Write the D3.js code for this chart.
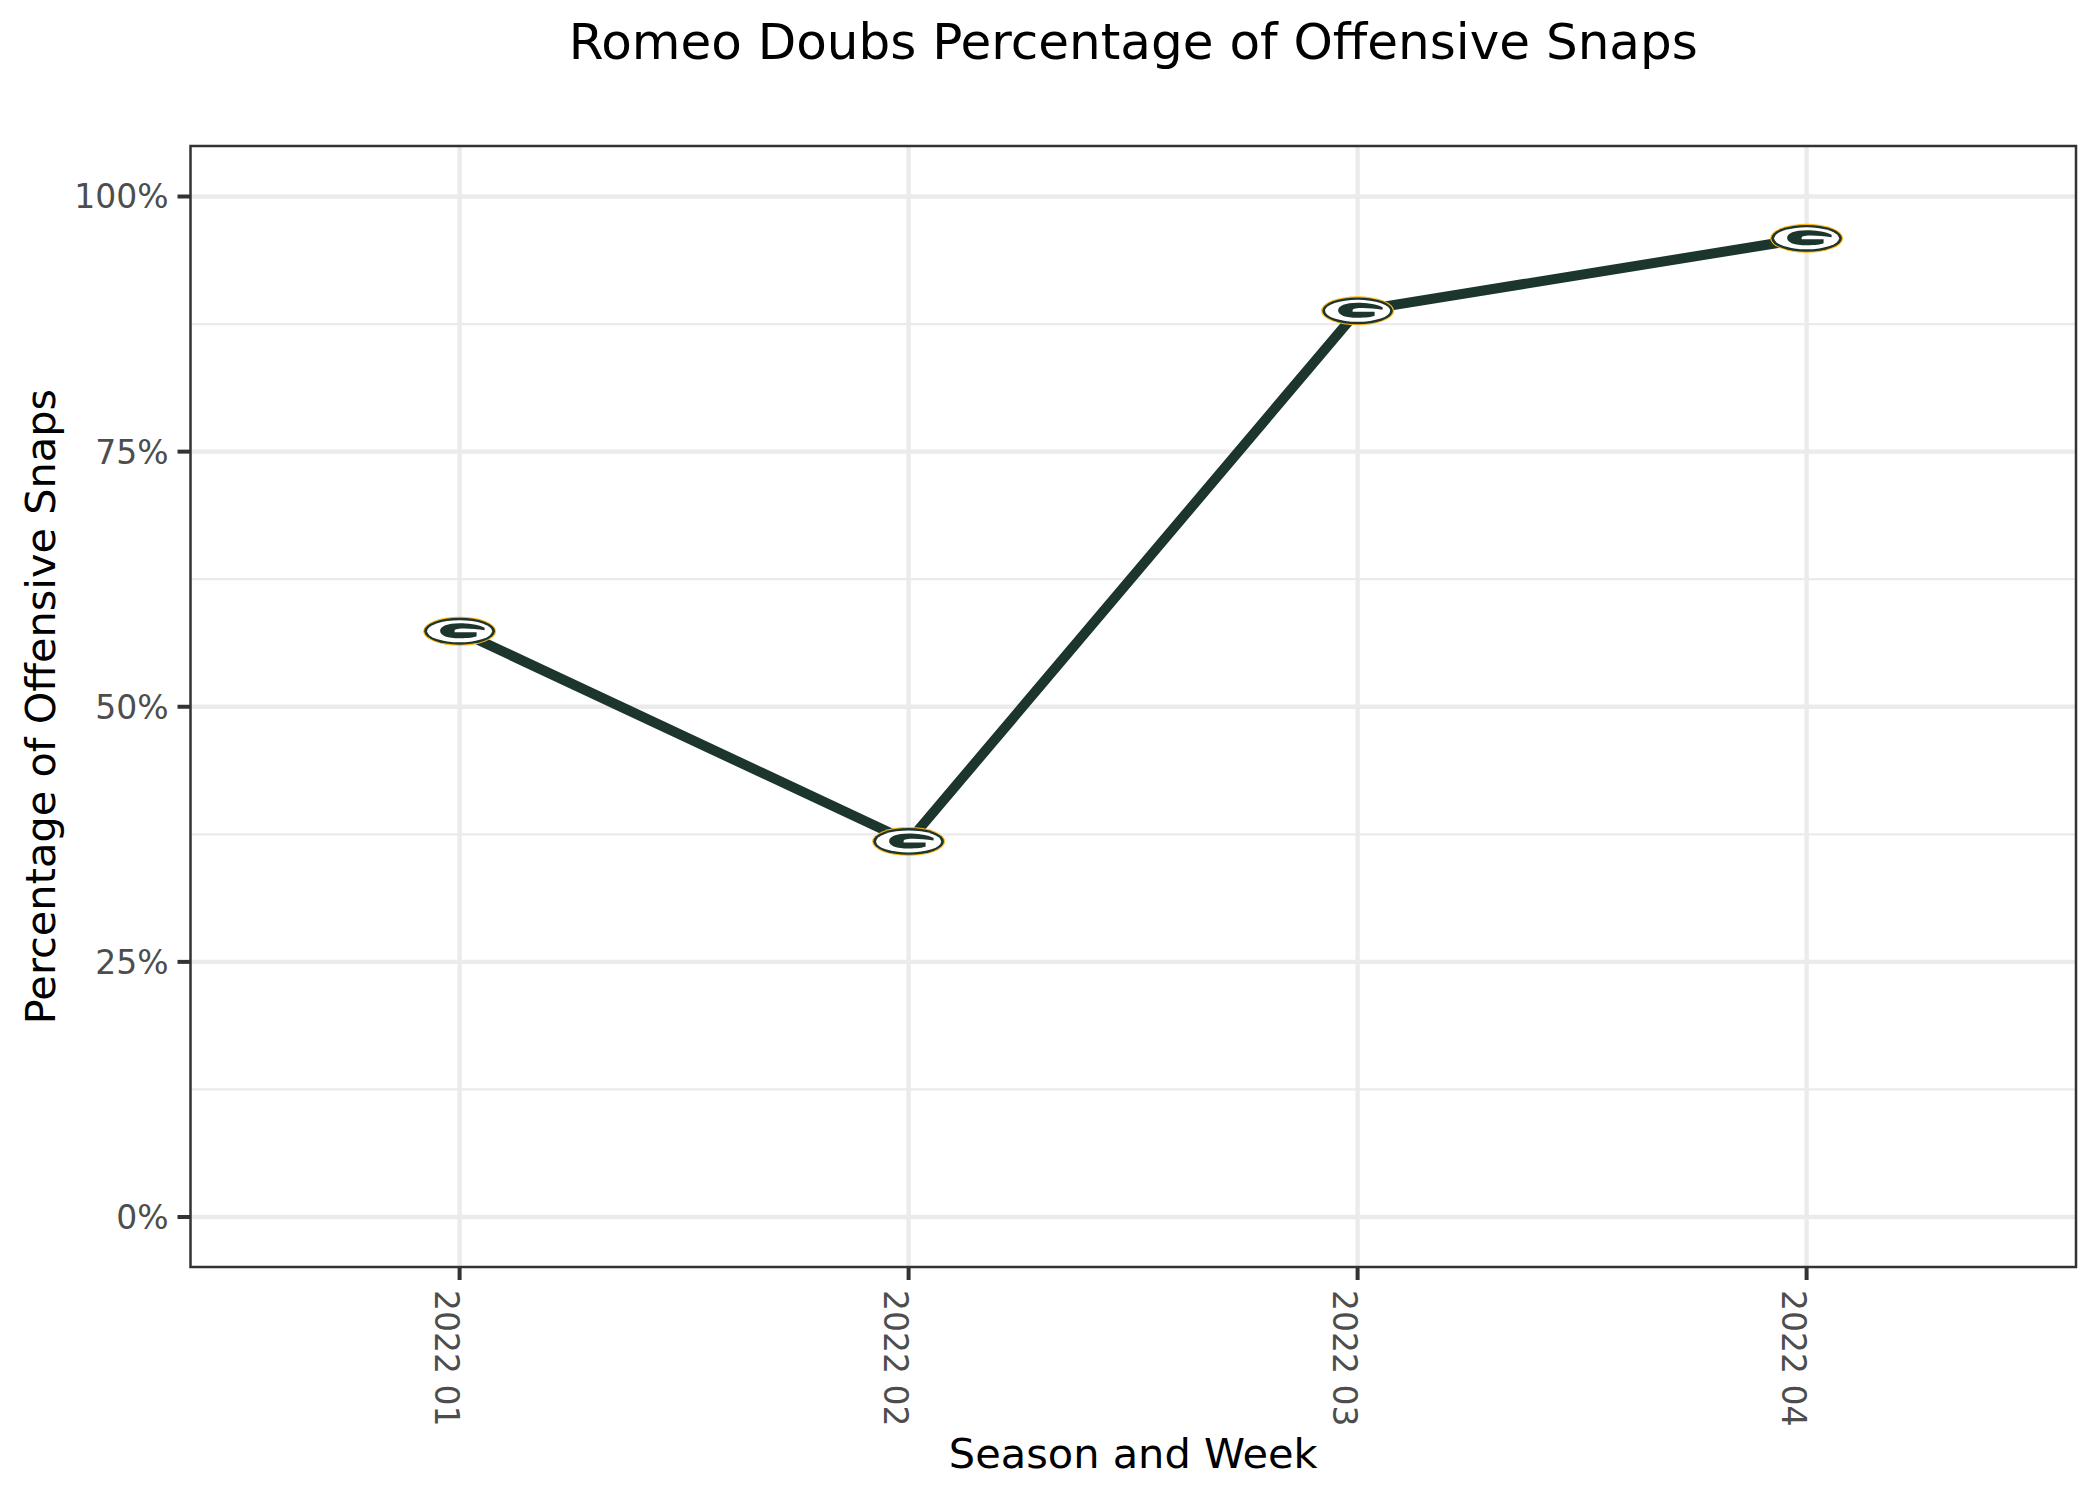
<!DOCTYPE html>
<html>
<head>
<meta charset="utf-8">
<script src="https://cdn.jsdelivr.net/npm/d3@7"></script>
<style>
html, body { margin: 0; padding: 0; background: #fff; }
text { font-family: "DejaVu Sans", sans-serif; }
</style>
</head>
<body>
<div id="chart"></div>
<script>
var weeks = ["2022 01", "2022 02", "2022 03", "2022 04"];
var snapPct = [0.574, 0.368, 0.888, 0.959];
var yTicks = [0, 0.25, 0.5, 0.75, 1];
var yMinor = [0.125, 0.375, 0.625, 0.875];

var width = 2100, height = 1500;
var panel = { left: 190.5, right: 2076, top: 146, bottom: 1267 };
var lineColor = "#1c352d", gold = "#FFB612";

var svg = d3.select("#chart").append("svg")
    .attr("width", width)
    .attr("height", height)
    .style("display", "block");

var x = d3.scalePoint()
    .domain(weeks)
    .range([459.6, 1806.6]);

var y = d3.scaleLinear()
    .domain([0, 1])
    .range([1217, 196.5]);

// grid
svg.selectAll(".minor").data(yMinor).enter().append("line")
    .attr("x1", panel.left).attr("x2", panel.right)
    .attr("y1", function(d) { return y(d); })
    .attr("y2", function(d) { return y(d); })
    .attr("stroke", "#ebebeb").attr("stroke-width", 2.2);
svg.selectAll(".major").data(yTicks).enter().append("line")
    .attr("x1", panel.left).attr("x2", panel.right)
    .attr("y1", function(d) { return y(d); })
    .attr("y2", function(d) { return y(d); })
    .attr("stroke", "#ebebeb").attr("stroke-width", 4.4);
svg.selectAll(".vmajor").data(weeks).enter().append("line")
    .attr("x1", function(d) { return x(d); })
    .attr("x2", function(d) { return x(d); })
    .attr("y1", panel.top).attr("y2", panel.bottom)
    .attr("stroke", "#ebebeb").attr("stroke-width", 4.4);

// the line
var line = d3.line()
    .x(function(d, i) { return x(weeks[i]); })
    .y(function(d) { return y(d); });
svg.append("path")
    .datum(snapPct)
    .attr("d", line)
    .attr("fill", "none")
    .attr("stroke", lineColor)
    .attr("stroke-width", 10);

// team logo markers, squashed like the original
function drawLogo(g) {
    g.append("ellipse").attr("rx", 36.5).attr("ry", 14.5).attr("fill", gold);
    g.append("ellipse").attr("rx", 35.3).attr("ry", 13.4).attr("fill", lineColor);
    g.append("ellipse").attr("rx", 32.5).attr("ry", 11).attr("fill", "#fff");
    g.append("path")
        .attr("d", "M25,-3.5 C18,-7 8,-8 0,-8 C-12,-8 -19.5,-5 -19.5,-0.5 C-19.5,4.5 -12,7 0,7 C9,7 14,6.2 17,5 L17,1 L-5,1 L-5,-0.5 C-5,-2.5 0,-2.8 5,-2.8 C11,-2.8 18,-2 25,-1 Z")
        .attr("fill", lineColor);
}
svg.selectAll(".logo").data(snapPct).enter().append("g")
    .attr("transform", function(d, i) { return "translate(" + x(weeks[i]) + "," + y(d) + ")"; })
    .each(function() { drawLogo(d3.select(this)); });

// panel border
svg.append("rect")
    .attr("x", panel.left).attr("y", panel.top)
    .attr("width", panel.right - panel.left)
    .attr("height", panel.bottom - panel.top)
    .attr("fill", "none")
    .attr("stroke", "#333").attr("stroke-width", 2.5);

// y axis ticks and labels
svg.selectAll(".ytick").data(yTicks).enter().append("line")
    .attr("x1", panel.left - 13).attr("x2", panel.left)
    .attr("y1", function(d) { return y(d); })
    .attr("y2", function(d) { return y(d); })
    .attr("stroke", "#333").attr("stroke-width", 4);
svg.selectAll(".ylabel").data(yTicks).enter().append("text")
    .attr("x", panel.left - 22)
    .attr("y", function(d) { return y(d); })
    .attr("dy", "0.36em")
    .attr("text-anchor", "end")
    .attr("font-size", 33)
    .attr("fill", "#4d4d4d")
    .text(d3.format(".0%"));

// x axis ticks and labels
svg.selectAll(".xtick").data(weeks).enter().append("line")
    .attr("x1", function(d) { return x(d); })
    .attr("x2", function(d) { return x(d); })
    .attr("y1", panel.bottom).attr("y2", panel.bottom + 13)
    .attr("stroke", "#333").attr("stroke-width", 4);
svg.selectAll(".xlabel").data(weeks).enter().append("text")
    .attr("transform", function(d) { return "translate(" + (x(d) - 25) + "," + (panel.bottom + 23) + ") rotate(90)"; })
    .attr("text-anchor", "start")
    .attr("font-size", 33)
    .attr("fill", "#4d4d4d")
    .text(function(d) { return d; });

// titles
svg.append("text")
    .attr("x", (panel.left + panel.right) / 2).attr("y", 59)
    .attr("text-anchor", "middle")
    .attr("font-size", 50)
    .attr("fill", "#000")
    .text("Romeo Doubs Percentage of Offensive Snaps");
svg.append("text")
    .attr("x", (panel.left + panel.right) / 2).attr("y", 1468)
    .attr("text-anchor", "middle")
    .attr("font-size", 41.5)
    .attr("fill", "#000")
    .text("Season and Week");
svg.append("text")
    .attr("transform", "translate(55," + ((panel.top + panel.bottom) / 2) + ") rotate(-90)")
    .attr("text-anchor", "middle")
    .attr("font-size", 41.5)
    .attr("fill", "#000")
    .text("Percentage of Offensive Snaps");
</script>
</body>
</html>
